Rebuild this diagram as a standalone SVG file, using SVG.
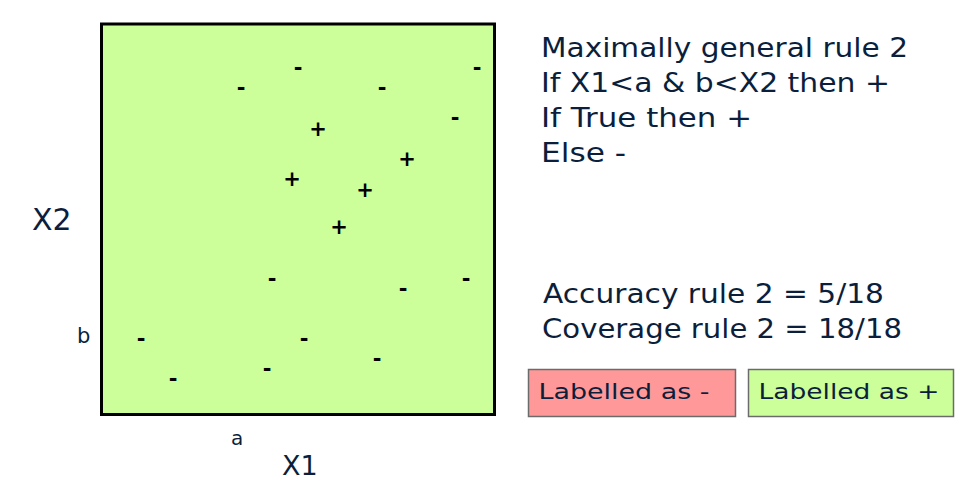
<svg xmlns="http://www.w3.org/2000/svg" width="974" height="482" viewBox="0 0 974 482">
<style>
.t{font-family:"DejaVu Sans","Liberation Sans",sans-serif;fill:#0b1f3d}
.m{font-family:"DejaVu Sans","Liberation Sans",sans-serif;font-size:21px;font-weight:bold;fill:#000;text-anchor:middle}
.rule{font-size:26px}
.leg{font-size:22px}
</style>
<rect width="974" height="482" fill="#ffffff"/>
<g id="plot">
<rect x="101.5" y="24" width="393" height="390.5" fill="#ccff99" stroke="#000" stroke-width="3"/>
</g>
<g id="points">
<text class="m" x="241" y="95">-</text>
<text class="m" x="298" y="75">-</text>
<text class="m" x="382" y="95">-</text>
<text class="m" x="477" y="75">-</text>
<text class="m" x="455" y="125">-</text>
<text class="m" x="272" y="286">-</text>
<text class="m" x="403" y="296">-</text>
<text class="m" x="466" y="286">-</text>
<text class="m" x="141" y="346">-</text>
<text class="m" x="304" y="346">-</text>
<text class="m" x="377" y="366">-</text>
<text class="m" x="267" y="376">-</text>
<text class="m" x="173" y="386">-</text>
<text class="m" x="318" y="136">+</text>
<text class="m" x="407" y="166">+</text>
<text class="m" x="292" y="186">+</text>
<text class="m" x="365" y="197">+</text>
<text class="m" x="339" y="234">+</text>
</g>
<g id="axes">
<text class="t" x="32" y="230" font-size="30">X2</text>
<text class="t" x="282" y="475" font-size="27">X1</text>
<text class="t" x="77" y="343" font-size="21">b</text>
<text class="t" x="231" y="445" font-size="20">a</text>
</g>
<g id="rule-text">
<text class="t rule" x="541" y="57" textLength="367" lengthAdjust="spacingAndGlyphs">Maximally general rule 2</text>
<text class="t rule" x="541" y="92" textLength="349" lengthAdjust="spacingAndGlyphs">If X1&lt;a &amp; b&lt;X2 then +</text>
<text class="t rule" x="541" y="127" textLength="211" lengthAdjust="spacingAndGlyphs">If True then +</text>
<text class="t rule" x="541" y="162" textLength="85" lengthAdjust="spacingAndGlyphs">Else -</text>
<text class="t rule" x="543" y="303" textLength="341" lengthAdjust="spacingAndGlyphs">Accuracy rule 2 = 5/18</text>
<text class="t rule" x="542" y="338" textLength="360" lengthAdjust="spacingAndGlyphs">Coverage rule 2 = 18/18</text>
</g>
<g id="legend-neg">
<rect x="528.5" y="369.5" width="207" height="47" fill="#ff9999" stroke="#6b6b6b" stroke-width="1.5"/>
<text class="t leg" x="538.5" y="399" textLength="171" lengthAdjust="spacingAndGlyphs">Labelled as -</text>
</g>
<g id="legend-pos">
<rect x="748.5" y="369.5" width="205" height="47" fill="#ccff99" stroke="#6b6b6b" stroke-width="1.5"/>
<text class="t leg" x="758.5" y="399" textLength="181" lengthAdjust="spacingAndGlyphs">Labelled as +</text>
</g>
</svg>
